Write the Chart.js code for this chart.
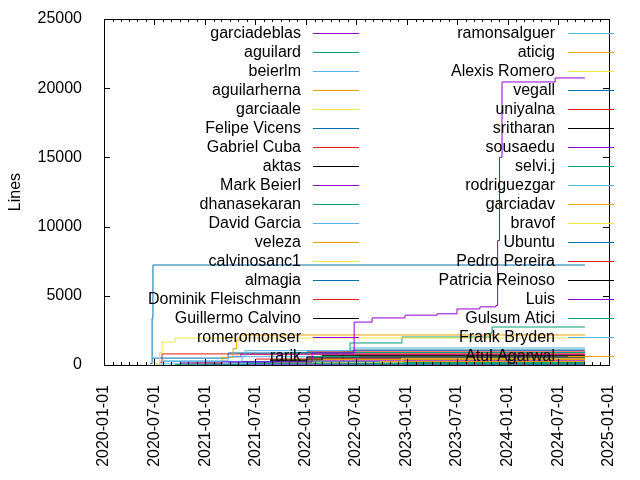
<!DOCTYPE html>
<html lang="en">
<head>
  <meta charset="UTF-8">
  <title>Lines per author</title>
  <script src="https://cdn.jsdelivr.net/npm/chart.js"></script>
  <style>
    html, body { margin: 0; padding: 0; background: #fff; }
    #wrap { width: 640px; height: 480px; }
  </style>
</head>
<body>
  <div id="wrap"><canvas id="graph" width="640" height="480"></canvas></div>

  <script>
    // cumulative lines per author, [date, lines]
    const garciadeblas = [['2020-10-02', 150], ['2021-03-03', 220], ['2022-01-23', 870], ['2022-06-24', 3100], ['2022-08-28', 3400], ['2022-12-25', 3600], ['2023-04-20', 3700], ['2023-07-01', 4050], ['2023-09-22', 4200], ['2023-11-19', 4300], ['2023-11-25', 9000], ['2023-12-02', 15000], ['2023-12-11', 20450], ['2024-06-20', 20740], ['2024-10-06', 20740]];
    const aguilard = [['2020-09-14', 50], ['2021-06-01', 120], ['2024-10-06', 120]];
    const beierlm = [['2020-08-01', 300], ['2021-03-25', 600], ['2021-05-25', 1030], ['2022-06-10', 1230], ['2024-10-06', 1230]];
    const aguilarherna = [['2020-11-14', 150], ['2021-03-03', 550], ['2021-04-12', 1200], ['2021-04-25', 1800], ['2021-05-10', 2170], ['2024-10-06', 2170]];
    const garciaale = [['2020-07-05', 100], ['2020-07-20', 900], ['2020-07-29', 1660], ['2020-09-14', 1950], ['2024-10-06', 1950]];
    const felipeVicens = [['2020-06-26', 500], ['2021-03-25', 870], ['2022-06-20', 1084], ['2024-10-06', 1084]];
    const gabrielCuba = [['2020-07-22', 200], ['2020-07-29', 800], ['2024-10-06', 800]];
    const aktas = [['2021-08-24', 300], ['2022-01-04', 580], ['2024-10-06', 580]];
    const markBeierl = [['2021-04-12', 600], ['2021-05-10', 780], ['2024-10-06', 780]];
    const dhanasekaran = [['2022-05-15', 80], ['2024-10-06', 80]];
    const davidGarcia = [['2020-08-01', 250], ['2021-05-14', 600], ['2024-10-06', 600]];
    const veleza = [['2022-09-26', 250], ['2024-10-06', 250]];
    const calvinosanc1 = [['2021-09-18', 200], ['2022-12-14', 500], ['2024-10-06', 500]];
    const almagia = [['2020-06-15', 100], ['2020-06-23', 3400], ['2020-06-26', 7225], ['2024-10-06', 7225]];
    const dominikFleischmann = [['2022-01-04', 950], ['2022-06-10', 1010], ['2024-10-06', 1010]];
    const guillermoCalvino = [['2021-08-24', 360], ['2022-02-28', 700], ['2024-10-06', 700]];
    const romeromonser = [['2022-02-28', 300], ['2024-10-06', 300]];
    const rarik = [['2022-12-21', 170], ['2024-10-06', 170]];
    const ramonsalguer = [['2020-07-07', 80], ['2024-10-06', 80]];
    const aticig = [['2021-09-01', 400], ['2024-10-06', 400]];
    const alexisRomero = [['2023-05-19', 150], ['2024-10-06', 150]];
    const vegall = [['2021-01-15', 250], ['2024-10-06', 250]];
    const uniyalna = [['2021-07-04', 430], ['2024-10-06', 430]];
    const sritharan = [['2022-01-04', 500], ['2024-10-06', 500]];
    const sousaedu = [['2021-02-01', 50], ['2024-10-06', 50]];
    const selviJ = [['2021-11-04', 900], ['2024-10-06', 915]];
    const rodriguezgar = [['2022-01-04', 1030], ['2024-10-06', 1030]];
    const garciadav = [['2022-05-04', 650], ['2024-10-06', 650]];
    const bravof = [['2022-12-21', 350], ['2024-10-06', 350]];
    const ubuntu = [['2021-01-01', 20], ['2024-10-06', 20]];
    const pedroPereira = [['2023-02-17', 100], ['2024-10-06', 100]];
    const patriciaReinoso = [['2023-11-30', 30], ['2024-10-06', 30]];
    const luis = [['2023-11-19', 120], ['2024-10-06', 120]];
    const gulsumAtici = [['2021-10-15', 240], ['2022-05-15', 940], ['2022-06-09', 1590], ['2022-12-14', 2020], ['2023-10-29', 2300], ['2023-11-05', 2745], ['2024-10-06', 2745]];
    const frankBryden = [['2021-03-25', 180], ['2024-10-06', 180]];
    const atulAgarwal = [['2022-07-08', 720], ['2024-10-06', 720]];

    const seriesNames = ['garciadeblas', 'aguilard', 'beierlm', 'aguilarherna', 'garciaale', 'Felipe Vicens',
      'Gabriel Cuba', 'aktas', 'Mark Beierl', 'dhanasekaran', 'David Garcia', 'veleza', 'calvinosanc1',
      'almagia', 'Dominik Fleischmann', 'Guillermo Calvino', 'romeromonser', 'rarik', 'ramonsalguer',
      'aticig', 'Alexis Romero', 'vegall', 'uniyalna', 'sritharan', 'sousaedu', 'selvi.j', 'rodriguezgar',
      'garciadav', 'bravof', 'Ubuntu', 'Pedro Pereira', 'Patricia Reinoso', 'Luis', 'Gulsum Atici',
      'Frank Bryden', 'Atul Agarwal'];
    const seriesData = [garciadeblas, aguilard, beierlm, aguilarherna, garciaale, felipeVicens,
      gabrielCuba, aktas, markBeierl, dhanasekaran, davidGarcia, veleza, calvinosanc1,
      almagia, dominikFleischmann, guillermoCalvino, romeromonser, rarik, ramonsalguer,
      aticig, alexisRomero, vegall, uniyalna, sritharan, sousaedu, selviJ, rodriguezgar,
      garciadav, bravof, ubuntu, pedroPereira, patriciaReinoso, luis, gulsumAtici,
      frankBryden, atulAgarwal];

    const xTickLabels = ['2020-01-01', '2020-07-01', '2021-01-01', '2021-07-01', '2022-01-01', '2022-07-01',
      '2023-01-01', '2023-07-01', '2024-01-01', '2024-07-01', '2025-01-01'];
    const yTicks = [0, 5000, 10000, 15000, 20000, 25000];

    const palette = ['#9400d3', '#009e73', '#56b4e9', '#e69f00', '#f0e442', '#0072b2', '#e51e10', '#000000'];
    const FONT = '"Liberation Sans", Arial, sans-serif';

    const t = s => Date.parse(s + 'T00:00:00Z');
    const fmt = v => new Date(v).toISOString().slice(0, 10);

    // monthly minor ticks for the x axis
    const minorTicks = [];
    for (let y = 2020; y <= 2024; y++) {
      for (let m = 0; m < 12; m++) {
        if (m !== 0 && m !== 6) minorTicks.push(Date.UTC(y, m, 1));
      }
    }

    const datasets = seriesData.map((pts, i) => ({
      label: seriesNames[i],
      data: pts.map(p => ({ x: t(p[0]), y: p[1] })),
      borderColor: palette[i % 8],
      borderWidth: 1,
      pointRadius: 0,
      stepped: 'before',
      fill: false
    }));

    // gnuplot-like frame, inward ticks and key
    const framePlugin = {
      id: 'frame',
      afterDatasetsDraw(chart) {
        const { ctx, chartArea: a, scales } = chart;
        ctx.save();
        ctx.strokeStyle = '#000';
        ctx.lineWidth = 1;
        ctx.beginPath();
        yTicks.forEach(v => {
          const py = Math.round(scales.y.getPixelForValue(v)) + 0.5;
          ctx.moveTo(a.left, py); ctx.lineTo(a.left + 6, py);
          ctx.moveTo(a.right, py); ctx.lineTo(a.right - 6, py);
        });
        xTickLabels.forEach(s => {
          const px = Math.round(scales.x.getPixelForValue(t(s))) + 0.5;
          ctx.moveTo(px, a.bottom); ctx.lineTo(px, a.bottom - 6);
          ctx.moveTo(px, a.top); ctx.lineTo(px, a.top + 6);
        });
        minorTicks.forEach(v => {
          const px = Math.round(scales.x.getPixelForValue(v)) + 0.5;
          ctx.moveTo(px, a.bottom); ctx.lineTo(px, a.bottom - 3);
          ctx.moveTo(px, a.top); ctx.lineTo(px, a.top + 3);
        });
        ctx.stroke();
        ctx.strokeRect(Math.round(a.left) + 0.5, Math.round(a.top) + 0.5,
          Math.round(a.right - a.left), Math.round(a.bottom - a.top));

        // key: two columns, filled top to bottom
        const rows = Math.ceil(seriesNames.length / 2);
        ctx.font = '16px ' + FONT;
        ctx.textAlign = 'right';
        ctx.textBaseline = 'middle';
        seriesNames.forEach((name, i) => {
          const col = Math.floor(i / rows);
          const row = i % rows;
          const y = a.top + 14 + row * 19;
          const textRight = col === 0 ? a.left + 197 : a.left + 451;
          const x1 = col === 0 ? a.left + 209 : a.left + 464;
          ctx.fillStyle = '#000';
          ctx.fillText(name, textRight, y + 1);
          ctx.strokeStyle = palette[i % 8];
          ctx.beginPath();
          ctx.moveTo(x1, Math.round(y) + 0.5);
          ctx.lineTo(x1 + 46, Math.round(y) + 0.5);
          ctx.stroke();
        });
        ctx.restore();
      }
    };

    new Chart(document.getElementById('graph').getContext('2d'), {
      type: 'line',
      data: { datasets },
      options: {
        responsive: false,
        animation: false,
        events: [],
        layout: { padding: { top: 19, right: 31, left: 0, bottom: 0 }, autoPadding: false },
        plugins: { legend: { display: false }, tooltip: { enabled: false } },
        scales: {
          x: {
            type: 'linear',
            min: t(xTickLabels[0]),
            max: t(xTickLabels[xTickLabels.length - 1]),
            grid: { display: false },
            border: { display: false },
            afterBuildTicks: scale => { scale.ticks = xTickLabels.map(s => ({ value: t(s) })); },
            afterFit: scale => { scale.height = 115; scale.paddingLeft = 0; scale.paddingRight = 0; },
            ticks: {
              autoSkip: false, maxRotation: 90, minRotation: 90, padding: 12,
              color: '#000', font: { family: FONT, size: 16 },
              callback: v => fmt(v)
            }
          },
          y: {
            min: 0,
            max: 25000,
            grid: { display: false },
            border: { display: false },
            afterBuildTicks: scale => { scale.ticks = yTicks.map(v => ({ value: v })); },
            afterFit: scale => { scale.width = 104; scale.paddingTop = 0; scale.paddingBottom = 0; },
            ticks: { padding: 14, color: '#000', font: { family: FONT, size: 16 }, callback: v => String(v) },
            title: { display: true, text: 'Lines', color: '#000', font: { family: FONT, size: 16 }, padding: { top: 6, bottom: 0 } }
          }
        }
      },
      plugins: [framePlugin]
    });
  </script>
</body>
</html>
